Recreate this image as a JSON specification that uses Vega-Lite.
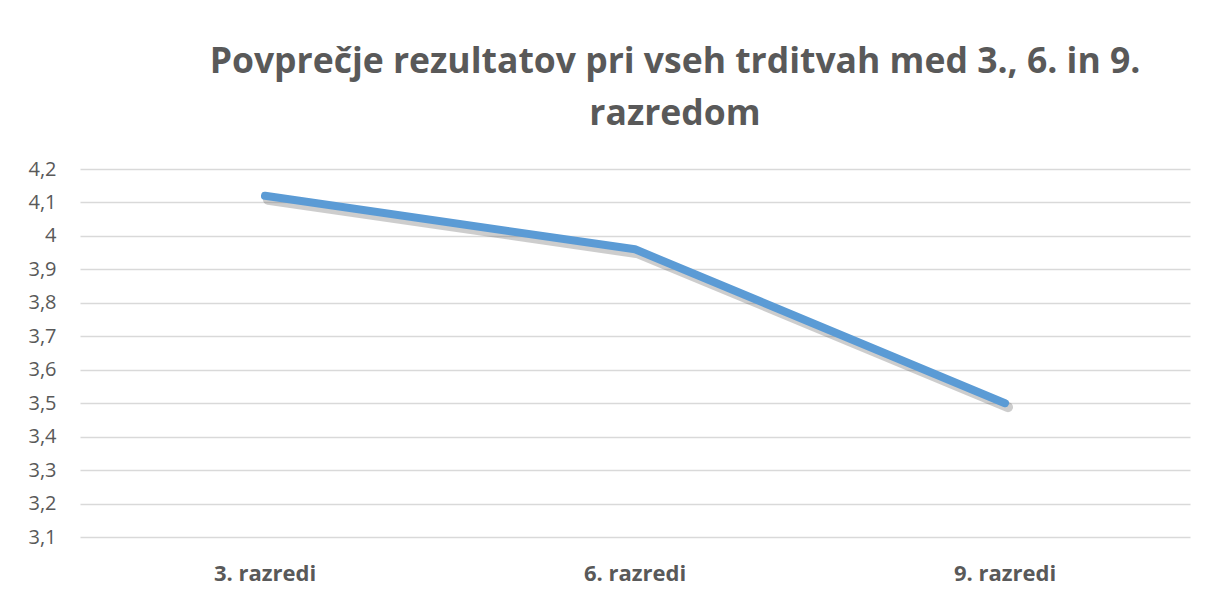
{
  "$schema": "https://vega.github.io/schema/vega-lite/v6.json",
  "autosize": {"type": "none"},
  "width": 1110,
  "height": 368,
  "padding": {"left": 80, "top": 169, "right": 15, "bottom": 58},
  "background": "white",
  "title": {
    "text": ["Povprečje rezultatov pri vseh trditvah med 3., 6. in 9.", "razredom"],
    "font": "Open Sans",
    "fontSize": 35.5,
    "fontWeight": "bold",
    "color": "#595959",
    "lineHeight": 52,
    "anchor": "middle",
    "dx": 40,
    "offset": 27
  },
  "data": {
    "values": [
      {"razred": "3. razredi", "povprecje": 4.12},
      {"razred": "6. razredi", "povprecje": 3.96},
      {"razred": "9. razredi", "povprecje": 3.50}
    ]
  },
  "encoding": {
    "x": {
      "field": "razred",
      "type": "nominal",
      "sort": null,
      "scale": {"type": "band", "paddingInner": 0, "paddingOuter": 0},
      "axis": {
        "title": null,
        "labelAngle": 0,
        "domain": false,
        "ticks": false,
        "grid": false,
        "labelFont": "Open Sans",
        "labelFontSize": 22,
        "labelFontWeight": "bold",
        "labelColor": "#595959",
        "labelBaseline": "alphabetic",
        "labelPadding": 43
      }
    },
    "y": {
      "field": "povprecje",
      "type": "quantitative",
      "scale": {"domain": [3.1, 4.2], "nice": false, "zero": false},
      "axis": {
        "title": null,
        "values": [3.1, 3.2, 3.3, 3.4, 3.5, 3.6, 3.7, 3.8, 3.9, 4.0, 4.1, 4.2],
        "labelExpr": "replace(format(datum.value, '.1~f'), '.', ',')",
        "domain": false,
        "ticks": false,
        "grid": true,
        "gridColor": "#d9d9d9",
        "gridWidth": 1.3,
        "labelFont": "Open Sans",
        "labelFontSize": 20,
        "labelColor": "#595959",
        "labelPadding": 24
      }
    }
  },
  "layer": [
    {
      "mark": {"type": "line", "color": "#595959", "opacity": 0.3, "strokeWidth": 10, "strokeCap": "round", "strokeJoin": "round", "xOffset": 3, "yOffset": 4}
    },
    {
      "mark": {"type": "line", "color": "#5b9bd5", "strokeWidth": 8, "strokeCap": "round", "strokeJoin": "round"}
    }
  ],
  "config": {
    "view": {"stroke": null}
  }
}
